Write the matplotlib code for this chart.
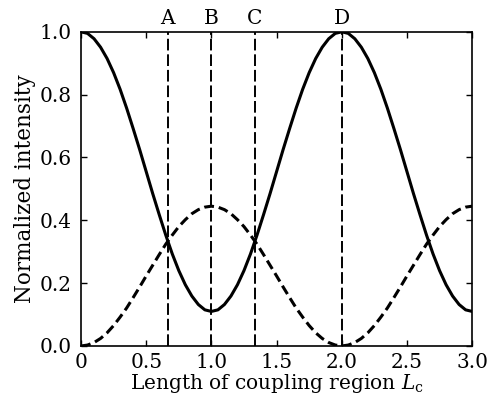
import numpy as np
import matplotlib
matplotlib.use("Agg")
import matplotlib.pyplot as plt

# sampled positions along the coupling region (step 0.05)
x_vals = np.round(np.arange(61) * 0.05, 2)

solid_vals = [
    1.000, 0.995, 0.978, 0.951, 0.915, 0.870, 0.817, 0.757, 0.692, 0.625, 0.555,
    0.485, 0.418, 0.353, 0.293, 0.240, 0.195, 0.159, 0.132, 0.115, 0.110,
    0.115, 0.132, 0.159, 0.195, 0.240, 0.293, 0.353, 0.418, 0.485, 0.555,
    0.625, 0.692, 0.757, 0.817, 0.870, 0.915, 0.951, 0.978, 0.995, 1.000,
    0.995, 0.978, 0.951, 0.915, 0.870, 0.817, 0.757, 0.692, 0.625, 0.555,
    0.485, 0.418, 0.353, 0.293, 0.240, 0.195, 0.159, 0.132, 0.115, 0.110,
]
dashed_vals = [
    0.000, 0.003, 0.011, 0.024, 0.042, 0.065, 0.092, 0.121, 0.154, 0.188, 0.223,
    0.257, 0.291, 0.324, 0.353, 0.380, 0.402, 0.421, 0.434, 0.442, 0.445,
    0.442, 0.434, 0.421, 0.402, 0.380, 0.353, 0.324, 0.291, 0.257, 0.223,
    0.188, 0.154, 0.121, 0.092, 0.065, 0.042, 0.024, 0.011, 0.003, 0.000,
    0.003, 0.011, 0.024, 0.042, 0.065, 0.092, 0.121, 0.154, 0.188, 0.223,
    0.257, 0.291, 0.324, 0.353, 0.380, 0.402, 0.421, 0.434, 0.442, 0.445,
]
marker_x = [2 / 3, 1.0, 4 / 3, 2.0]
marker_labels = ["A", "B", "C", "D"]
xticks = [0, 0.5, 1.0, 1.5, 2.0, 2.5, 3.0]
xtick_labels = ["0", "0.5", "1.0", "1.5", "2.0", "2.5", "3.0"]
yticks = [0.0, 0.2, 0.4, 0.6, 0.8, 1.0]
ytick_labels = ["0.0", "0.2", "0.4", "0.6", "0.8", "1.0"]

plt.rcParams["font.family"] = ["DejaVu Serif"]
plt.rcParams["mathtext.fontset"] = "dejavuserif"

FS = 14.5

fig = plt.figure(figsize=(4.97, 4.08), dpi=100)
ax = fig.add_axes([0.163, 0.152, 0.787, 0.770])

ax.plot(x_vals, solid_vals, color="black", lw=2.2, solid_capstyle="round")
ax.plot(x_vals, dashed_vals, color="black", lw=2.2, dashes=(3.2, 1.6))

for xm, lab in zip(marker_x, marker_labels):
    ax.axvline(xm, color="black", lw=1.4, dashes=(6, 2))
    ax.annotate(lab, xy=(xm, 1.0), xycoords=("data", "axes fraction"),
                xytext=(0, 2.5), textcoords="offset points",
                ha="center", va="bottom", fontsize=FS)

ax.set_xlim(0, 3.0)
ax.set_ylim(0, 1.0)
ax.set_xticks(xticks)
ax.set_xticklabels(xtick_labels)
ax.set_yticks(yticks)
ax.set_yticklabels(ytick_labels)
ax.tick_params(direction="in", top=True, right=True, length=4.5, width=1,
               labelsize=FS)
ax.tick_params(axis="x", pad=5)
ax.tick_params(axis="y", pad=7)
for sp in ax.spines.values():
    sp.set_linewidth(1.2)

ax.set_xlabel(r"Length of coupling region $L_{\mathrm{c}}$", fontsize=FS, labelpad=0)
ax.set_ylabel("Normalized intensity", fontsize=FS + 1, labelpad=2)

fig.savefig("out.png", dpi=100)
